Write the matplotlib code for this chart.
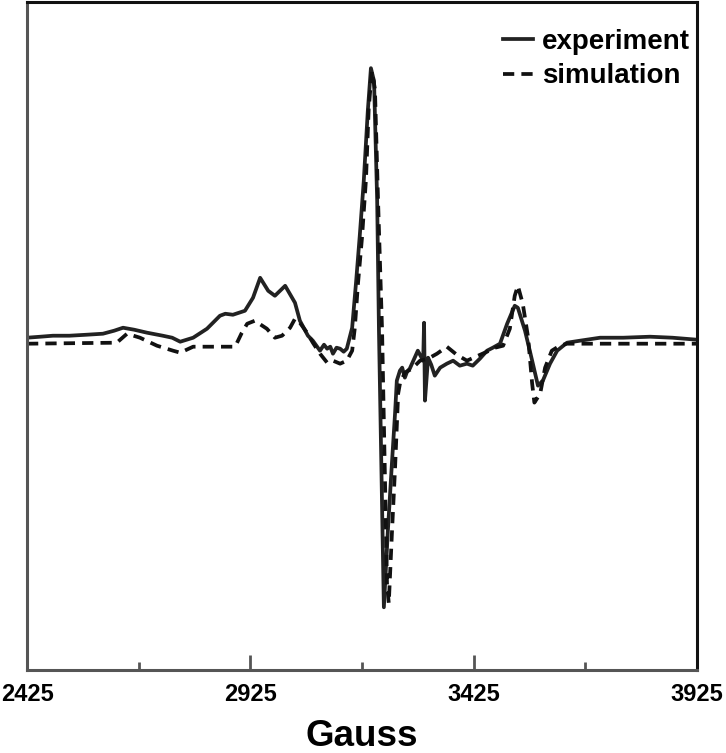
import matplotlib
matplotlib.use("Agg")
import matplotlib.pyplot as plt

plt.rcParams['font.family'] = ['Liberation Sans Narrow', 'Liberation Sans', 'DejaVu Sans']
plt.rcParams['font.weight'] = 'bold'

# experiment trace (field in Gauss, intensity in arbitrary units)
exp_gauss = [2425, 2455, 2483, 2520, 2559, 2595, 2620, 2640, 2665, 2694, 2729, 2750,
             2768, 2797, 2828, 2857, 2869, 2886, 2913, 2931, 2947, 2965, 2980, 3003,
             3025, 3036, 3054, 3065, 3081, 3090, 3097, 3104, 3110, 3118, 3126, 3134,
             3141, 3153, 3162, 3170, 3179, 3188, 3195, 3202, 3209, 3213, 3224, 3233,
             3242, 3249, 3253, 3260, 3265, 3271, 3276, 3282, 3292, 3300, 3312, 3314,
             3316, 3323, 3330, 3338, 3350, 3365, 3379, 3394, 3410, 3423, 3439, 3455,
             3468, 3484, 3500, 3517, 3524, 3540, 3556, 3569, 3580, 3596, 3612, 3634,
             3663, 3708, 3760, 3820, 3870, 3925]
exp_signal = [1, 2, 3, 3, 4, 5, 8, 11, 9, 6, 3, 1,
              -3, 1, 10, 23, 25, 24, 28, 41, 61, 48, 43, 53,
              36, 18, 3, -2, -12, -6, -10, -8, -15, -9, -10, -13,
              -10, 11, 58, 103, 158, 228, 271, 258, 138, 8, -269, -192,
              -125, -75, -42, -32, -29, -39, -33, -30, -20, -12, -22, 16,
              -62, -19, -26, -37, -29, -25, -22, -27, -25, -27, -20, -12,
              -9, -5, 15, 33, 31, 8, -22, -47, -42, -25, -12, -4,
              -2, 1, 1, 2, 1, -1]

# simulation trace
sim_gauss = [2425, 2626, 2649, 2678, 2716, 2752, 2768, 2797, 2828, 2891, 2906, 2918,
             2935, 2962, 2980, 2996, 3014, 3025, 3036, 3052, 3065, 3081, 3097, 3110,
             3126, 3141, 3153, 3159, 3166, 3175, 3184, 3190, 3197, 3204, 3211, 3220,
             3231, 3235, 3242, 3249, 3256, 3260, 3271, 3287, 3305, 3323, 3343, 3365,
             3387, 3410, 3430, 3455, 3473, 3491, 3506, 3517, 3524, 3535, 3547, 3556,
             3561, 3574, 3585, 3600, 3618, 3634, 3925]
sim_signal = [-5, -4, 5, 1, -7, -12, -14, -8, -8, -8, 6, 15,
              18, 10, 1, 3, 11, 20, 16, 6, -4, -15, -24, -22,
              -25, -22, -12, 11, 55, 101, 160, 230, 268, 250, 138, 8,
              -245, -265, -195, -130, -55, -45, -34, -30, -22, -20, -15, -8,
              -16, -22, -18, -13, -9, -7, 10, 43, 53, 35, 1, -45,
              -64, -55, -29, -12, -7, -5, -5]

major_ticks = [2425, 2925, 3425, 3925]
minor_ticks = [2675, 3175, 3675]

fig = plt.figure(figsize=(7.26, 7.53), dpi=100)
ax = fig.add_axes([0.0372, 0.110, 0.9228, 0.887])

ax.plot(exp_gauss, exp_signal, color='#222222', lw=2.7, solid_joinstyle='round',
        label='experiment')
ax.plot(sim_gauss, sim_signal, color='#111111', lw=2.7, dashes=(3.0, 1.9),
        dash_capstyle='butt', label='simulation')

ax.set_xlim(2425, 3925)
ax.set_ylim(-332, 337)
ax.set_xticks(major_ticks)
ax.set_xticks(minor_ticks, minor=True)
ax.set_yticks([])
ax.tick_params(axis='x', which='major', direction='in', length=11, width=2,
               color='#555555', labelsize=17, pad=9)
ax.tick_params(axis='x', which='minor', direction='in', length=6, width=2,
               color='#555555')
for lab in ax.get_xticklabels():
    lab.set_fontweight('bold')

for side in ['left', 'bottom']:
    ax.spines[side].set_color('#555555')
    ax.spines[side].set_linewidth(2.2)
for side in ['top', 'right']:
    ax.spines[side].set_color('#111111')
    ax.spines[side].set_linewidth(2.2)

fig.text(0.4986, 0.009, 'Gauss', fontsize=26.5, fontweight='bold',
         ha='center', va='baseline')

ax.legend(loc='upper right', bbox_to_anchor=(1.015, 0.985), frameon=False,
          handlelength=1.05, handletextpad=0.35, borderaxespad=0.0,
          labelspacing=0.3, borderpad=0.6, prop={'weight': 'bold', 'size': 20})

fig.savefig('out.png', dpi=100)
